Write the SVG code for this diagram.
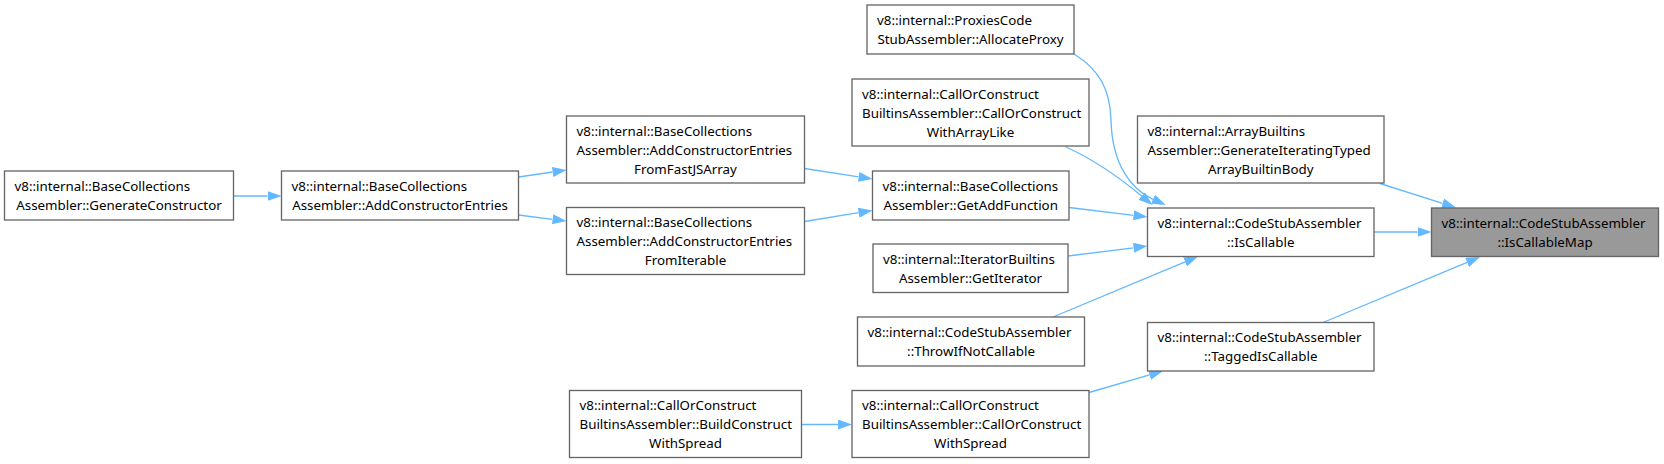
<svg xmlns="http://www.w3.org/2000/svg" width="1664" height="464" viewBox="0 0 1664 464">
<style>
.box{fill:#ffffff;stroke:#666666;stroke-width:1.33}
.hl{fill:#999999;stroke:#666666;stroke-width:1.33}
text{font-family:"Noto Sans","Open Sans","DejaVu Sans",sans-serif;font-size:13.33px;fill:#000000}
.m{text-anchor:middle}
.e{fill:none;stroke:#63b8ff;stroke-width:1.33}
</style>
<defs>
<marker id="ah" markerUnits="userSpaceOnUse" markerWidth="14" markerHeight="10" viewBox="0 0 14 10" refX="0" refY="5" orient="auto">
<path d="M0,0 L14,5 L0,10 z" fill="#63b8ff"/>
</marker>
</defs>
<rect width="1664" height="464" fill="#ffffff"/>
<g id="edges">
<path class="e" marker-end="url(#ah)" d="M233.5,196 L267.5,196"/>
<path class="e" marker-end="url(#ah)" d="M518.5,177 L552.7,172"/>
<path class="e" marker-end="url(#ah)" d="M518.5,215 L552.6,219.3"/>
<path class="e" marker-end="url(#ah)" d="M804.5,168.5 L858.7,176.9"/>
<path class="e" marker-end="url(#ah)" d="M804.5,221.5 L858.7,212.7"/>
<path class="e" marker-end="url(#ah)" d="M1074,54 C1100,70 1110,90 1111,120 C1112,163 1130,189 1153,199.3"/>
<path class="e" marker-end="url(#ah)" d="M1065,146.5 C1095,160 1120,178 1141.7,196"/>
<path class="e" marker-end="url(#ah)" d="M1069,207.5 L1133.6,215.3"/>
<path class="e" marker-end="url(#ah)" d="M1068,256 L1133.6,247.8"/>
<path class="e" marker-end="url(#ah)" d="M1053,317 L1185.1,261.9"/>
<path class="e" marker-end="url(#ah)" d="M1374,232 L1417.5,232"/>
<path class="e" marker-end="url(#ah)" d="M1380,183.5 L1442.6,203.3"/>
<path class="e" marker-end="url(#ah)" d="M1323,322.5 L1467.1,262.4"/>
<path class="e" marker-end="url(#ah)" d="M1089,392.5 L1149.6,374.9"/>
<path class="e" marker-end="url(#ah)" d="M801.5,424.5 L838,424.5"/>
</g>
<g id="n1"><rect class="box" x="4.5" y="171" width="229" height="49"/><text x="14.5" y="190.5">v8::internal::BaseCollections</text><text class="m" x="119" y="209.5">Assembler::GenerateConstructor</text></g>
<g id="n2"><rect class="box" x="281.5" y="171" width="237" height="49"/><text x="291.5" y="190.5">v8::internal::BaseCollections</text><text class="m" x="400" y="209.5">Assembler::AddConstructorEntries</text></g>
<g id="n3"><rect class="box" x="566.5" y="116" width="238" height="67"/><text x="576.5" y="135.5">v8::internal::BaseCollections</text><text x="576.5" y="154.5">Assembler::AddConstructorEntries</text><text class="m" x="685.5" y="173.5">FromFastJSArray</text></g>
<g id="n4"><rect class="box" x="566.5" y="207.5" width="238" height="67"/><text x="576.5" y="227">v8::internal::BaseCollections</text><text x="576.5" y="246">Assembler::AddConstructorEntries</text><text class="m" x="685.5" y="265">FromIterable</text></g>
<g id="n5"><rect class="box" x="867" y="5" width="207" height="49"/><text x="877" y="24.5">v8::internal::ProxiesCode</text><text class="m" x="970.5" y="43.5">StubAssembler::AllocateProxy</text></g>
<g id="n6"><rect class="box" x="852" y="79" width="237" height="67"/><text x="862" y="98.5">v8::internal::CallOrConstruct</text><text x="862" y="117.5">BuiltinsAssembler::CallOrConstruct</text><text class="m" x="970.5" y="136.5">WithArrayLike</text></g>
<g id="n7"><rect class="box" x="872.5" y="171" width="196.5" height="49"/><text x="882.5" y="190.5">v8::internal::BaseCollections</text><text class="m" x="970.75" y="209.5">Assembler::GetAddFunction</text></g>
<g id="n8"><rect class="box" x="873" y="244" width="195" height="48.5"/><text x="883" y="263.5">v8::internal::IteratorBuiltins</text><text class="m" x="970.5" y="282.5">Assembler::GetIterator</text></g>
<g id="n9"><rect class="box" x="857.5" y="317" width="227" height="49"/><text x="867.5" y="336.5">v8::internal::CodeStubAssembler</text><text class="m" x="971" y="355.5">::ThrowIfNotCallable</text></g>
<g id="n10"><rect class="box" x="569.5" y="390.5" width="232" height="67"/><text x="579.5" y="410">v8::internal::CallOrConstruct</text><text x="579.5" y="429">BuiltinsAssembler::BuildConstruct</text><text class="m" x="685.5" y="448">WithSpread</text></g>
<g id="n11"><rect class="box" x="852" y="390.5" width="237" height="67"/><text x="862" y="410">v8::internal::CallOrConstruct</text><text x="862" y="429">BuiltinsAssembler::CallOrConstruct</text><text class="m" x="970.5" y="448">WithSpread</text></g>
<g id="n12"><rect class="box" x="1137.5" y="116" width="246.5" height="67"/><text x="1147.5" y="135.5">v8::internal::ArrayBuiltins</text><text x="1147.5" y="154.5">Assembler::GenerateIteratingTyped</text><text class="m" x="1260.75" y="173.5">ArrayBuiltinBody</text></g>
<g id="n13"><rect class="box" x="1147.5" y="208" width="226.5" height="48.5"/><text x="1157.5" y="227.5">v8::internal::CodeStubAssembler</text><text class="m" x="1260.75" y="246.5">::IsCallable</text></g>
<g id="n14"><rect class="box" x="1147.5" y="322.5" width="226.5" height="48.5"/><text x="1157.5" y="342">v8::internal::CodeStubAssembler</text><text class="m" x="1260.75" y="361">::TaggedIsCallable</text></g>
<g id="n15"><rect class="hl" x="1431.5" y="208" width="227" height="48.5"/><text x="1441.5" y="227.5">v8::internal::CodeStubAssembler</text><text class="m" x="1545" y="246.5">::IsCallableMap</text></g>
</svg>
